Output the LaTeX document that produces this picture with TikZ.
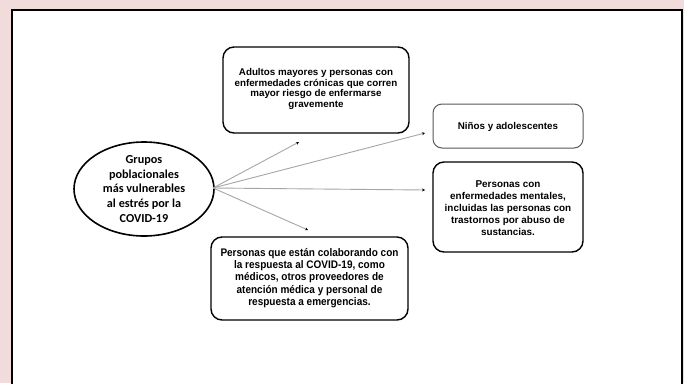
\documentclass[tikz,border=0pt]{standalone}
\usepackage{fontspec}
\setmainfont{Liberation Sans}
\newfontfamily\calib{Carlito}
\newfontfamily\narrowf[FakeStretch=0.91]{Liberation Sans}
\usetikzlibrary{arrows.meta,shapes.geometric}
\definecolor{bgpink}{HTML}{F2DCDB}
\definecolor{arrgray}{HTML}{A6A6A6}
\tikzset{
  rbox/.style={draw=black, line width=1.4pt, rounded corners=11pt, fill=white, inner sep=0pt},
  rboxthin/.style={draw=black!65, line width=1pt, rounded corners=9pt, fill=white, inner sep=0pt},
  txt/.style={align=center, inner sep=0pt, font=\bfseries\fontsize{9.8}{10.4}\selectfont},
  conn/.style={draw=arrgray, line width=0.9pt, -{Stealth[length=3pt,width=3pt,black]}}
}
\begin{document}
\begin{tikzpicture}[x=1pt,y=-1pt]
\useasboundingbox (0,0) rectangle (684,383);
\fill[bgpink] (0,0) rectangle (684,383);
\draw[line width=2.5pt, fill=white] (12,10) rectangle (682,400);
% ellipse
\node[ellipse, draw=black, line width=1.6pt, minimum width=140pt, minimum height=94pt, inner sep=0pt] (ell) at (144,189) {};
\node[align=center, inner sep=0pt, font=\calib\bfseries\fontsize{12.2}{14.7}\selectfont] (ellt) at (144,189) {Grupos\\poblacionales\\más vulnerables\\al estrés por la\\COVID-19};
% top box
\draw[rbox] (223,47) rectangle (409,133);
\node[txt] (t1) at (316,89) {Adultos mayores y personas con\\enfermedades crónicas que corren\\mayor riesgo de enfermarse\\gravemente};
% Niños
\draw[rboxthin] (433,104) rectangle (583,148);
\node[txt] (t2) at (508,126.5) {Niños y adolescentes};
% Personas mentales
\draw[rbox] (433,162) rectangle (583,252);
\node[txt, font=\bfseries\fontsize{9.9}{11.9}\selectfont] (t3) at (508,208) {Personas con\\enfermedades mentales,\\incluidas las personas con\\trastornos por abuso de\\sustancias.};
% bottom box
\draw[rbox] (211,237) rectangle (408,320);
\node[txt, font=\narrowf\bfseries\fontsize{11}{12.3}\selectfont] (t4) at (309.5,278) {Personas que están colaborando con\\la respuesta al COVID-19, como\\médicos, otros proveedores de\\atención médica y personal de\\respuesta a emergencias.};
% arrow ends
\coordinate (e1) at (299,142);
\coordinate (e2) at (425,133);
\coordinate (e3) at (425,190);
\coordinate (e4) at (308,230);
\coordinate (o) at (213,188);
\draw[conn] (o) -- (e1);
\draw[conn] (o) -- (e2);
\draw[conn] (o) -- (e3);
\draw[conn] (o) -- (e4);
\end{tikzpicture}
\end{document}
